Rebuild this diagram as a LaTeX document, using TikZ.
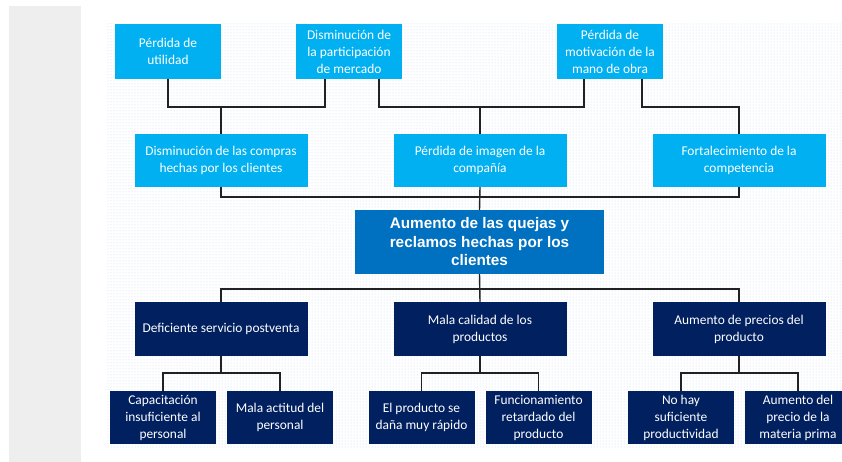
\documentclass[tikz,border=0pt]{standalone}
\usepackage{fontspec}
\setmainfont{Carlito}
\newfontfamily\headfont{Liberation Sans}
\usetikzlibrary{patterns}
\definecolor{lightblue}{HTML}{00B0F0}
\definecolor{midblue}{HTML}{0070C0}
\definecolor{navy}{HTML}{002060}
\definecolor{panelgray}{HTML}{EEEEEE}
\definecolor{dotblue}{HTML}{C2D7F0}
\definecolor{linecol}{HTML}{222222}
\tikzset{
  basebox/.style={inner sep=0pt, align=center, text=white,
    font=\fontsize{13.4}{17}\selectfont},
  effectbox/.style={basebox, fill=lightblue},
  causebox/.style={basebox, fill=navy},
  problembox/.style={basebox, fill=midblue,
    font=\headfont\bfseries\fontsize{15.3}{18.5}\selectfont,
    minimum width=249pt, minimum height=64pt},
  smallbox/.style={minimum width=106pt, minimum height=54pt},
  widebox/.style={minimum width=173pt, minimum height=53pt},
  link/.style={draw=linecol, line width=1.4pt}
}
\begin{document}
\begin{tikzpicture}[x=1pt,y=-1pt]
\useasboundingbox (0,0) rectangle (842,462);
% background
\fill[panelgray] (9,6) rectangle (81,462);
\fill[pattern=dots, pattern color=dotblue] (107,23) rectangle (842,448);

% effects, top row
\node[effectbox, smallbox, minimum height=55pt] (e1) at (168,51.5) {Pérdida de\\utilidad};
\node[effectbox, smallbox, minimum height=55pt] (e2) at (349,51.5) {Disminución de\\la participación\\de mercado};
\node[effectbox, smallbox, minimum height=55pt] (e3) at (610,51.5) {Pérdida de\\motivación de la\\mano de obra};
% effects, second row
\node[effectbox, widebox] (f1) at (221,160.5) {Disminución de las compras\\hechas por los clientes};
\node[effectbox, widebox] (f2) at (480,160.5) {Pérdida de imagen de la\\compañía};
\node[effectbox, widebox] (f3) at (739,160.5) {Fortalecimiento de la\\competencia};
% central problem
\node[problembox] (p) at (479.5,242) {Aumento de las quejas y\\reclamos hechas por los\\clientes};
% causes
\node[causebox, widebox, minimum height=54pt] (c1) at (221,329) {Deficiente servicio postventa};
\node[causebox, widebox, minimum height=54pt] (c2) at (480,329) {Mala calidad de los\\productos};
\node[causebox, widebox, minimum height=54pt] (c3) at (739,329) {Aumento de precios del\\producto};
% sub-causes
\node[causebox, smallbox, minimum height=53pt] (s1) at (163,417.5) {Capacitación\\insuficiente al\\personal};
\node[causebox, smallbox, minimum height=53pt] (s2) at (280,417.5) {Mala actitud del\\personal};
\node[causebox, smallbox, minimum height=53pt] (s3) at (421.5,417.5) {El producto se\\daña muy rápido};
\node[causebox, smallbox, minimum height=53pt] (s4) at (538.5,417.5) {Funcionamiento\\retardado del\\producto};
\node[causebox, smallbox, minimum height=53pt] (s5) at (681,417.5) {No hay\\suficiente\\productividad};
\node[causebox, smallbox, minimum height=53pt] (s6) at (798,417.5) {Aumento del\\precio de la\\materia prima};

% helper levels
\coordinate (h1) at (0,107);
\coordinate (h2) at (0,197);
\coordinate (h3) at (0,289);
\coordinate (h4) at (0,373);
\coordinate (e2a) at ([xshift=-24pt]e2.south);
\coordinate (e2b) at ([xshift=30pt]e2.south);
\coordinate (e3a) at ([xshift=-26pt]e3.south);
\coordinate (e3b) at ([xshift=32pt]e3.south);

% top connectors
\draw[link] (e1.south) -- (e1.south |- h1) -- (e2a |- h1) -- (e2a);
\draw[link] (f1.north) -- (f1.north |- h1);
\draw[link] (e2b) -- (e2b |- h1) -- (e3a |- h1) -- (e3a);
\draw[link] (f2.north) -- (f2.north |- h1);
\draw[link] (e3b) -- (e3b |- h1) -- (f3.north |- h1) -- (f3.north);
% second row to problem
\draw[link] (f1.south) -- (f1.south |- h2) -- (f3.south |- h2) -- (f3.south);
\draw[link] (f2.south) -- (p.north);
% problem to causes
\draw[link] (c1.north) -- (c1.north |- h3) -- (c3.north |- h3) -- (c3.north);
\draw[link] (p.south) -- (c2.north);
% causes to sub-causes
\draw[link] (c1.south) -- (c1.south |- h4);
\draw[link] (s1.north) -- (s1.north |- h4) -- (s2.north |- h4) -- (s2.north);
\draw[link] (c2.south) -- (c2.south |- h4);
\draw[link] (s3.north) -- (s3.north |- h4) -- (s4.north |- h4) -- (s4.north);
\draw[link] (c3.south) -- (c3.south |- h4);
\draw[link] (s5.north) -- (s5.north |- h4) -- (s6.north |- h4) -- (s6.north);
\end{tikzpicture}
\end{document}
